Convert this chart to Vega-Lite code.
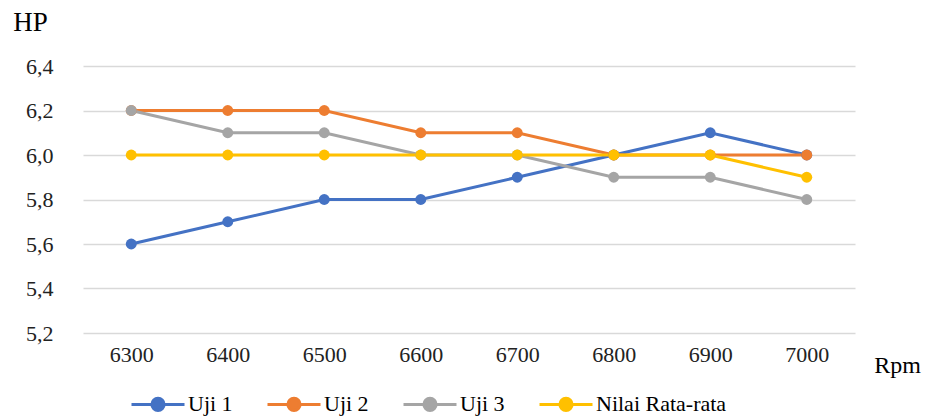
{
  "$schema": "https://vega.github.io/schema/vega-lite/v6.json",
  "width": 772,
  "height": 267,
  "autosize": {"type": "none"},
  "padding": {"left": 83, "top": 66, "right": 70, "bottom": 83},
  "background": "white",
  "config": {
    "font": "Liberation Serif",
    "view": {"stroke": null}
  },
  "data": {
    "values": [
      {"rpm": "6300", "series": "Uji 1", "hp": 5.6},
      {"rpm": "6400", "series": "Uji 1", "hp": 5.7},
      {"rpm": "6500", "series": "Uji 1", "hp": 5.8},
      {"rpm": "6600", "series": "Uji 1", "hp": 5.8},
      {"rpm": "6700", "series": "Uji 1", "hp": 5.9},
      {"rpm": "6800", "series": "Uji 1", "hp": 6.0},
      {"rpm": "6900", "series": "Uji 1", "hp": 6.1},
      {"rpm": "7000", "series": "Uji 1", "hp": 6.0},
      {"rpm": "6300", "series": "Uji 2", "hp": 6.2},
      {"rpm": "6400", "series": "Uji 2", "hp": 6.2},
      {"rpm": "6500", "series": "Uji 2", "hp": 6.2},
      {"rpm": "6600", "series": "Uji 2", "hp": 6.1},
      {"rpm": "6700", "series": "Uji 2", "hp": 6.1},
      {"rpm": "6800", "series": "Uji 2", "hp": 6.0},
      {"rpm": "6900", "series": "Uji 2", "hp": 6.0},
      {"rpm": "7000", "series": "Uji 2", "hp": 6.0},
      {"rpm": "6300", "series": "Uji 3", "hp": 6.2},
      {"rpm": "6400", "series": "Uji 3", "hp": 6.1},
      {"rpm": "6500", "series": "Uji 3", "hp": 6.1},
      {"rpm": "6600", "series": "Uji 3", "hp": 6.0},
      {"rpm": "6700", "series": "Uji 3", "hp": 6.0},
      {"rpm": "6800", "series": "Uji 3", "hp": 5.9},
      {"rpm": "6900", "series": "Uji 3", "hp": 5.9},
      {"rpm": "7000", "series": "Uji 3", "hp": 5.8},
      {"rpm": "6300", "series": "Nilai Rata-rata", "hp": 6.0},
      {"rpm": "6400", "series": "Nilai Rata-rata", "hp": 6.0},
      {"rpm": "6500", "series": "Nilai Rata-rata", "hp": 6.0},
      {"rpm": "6600", "series": "Nilai Rata-rata", "hp": 6.0},
      {"rpm": "6700", "series": "Nilai Rata-rata", "hp": 6.0},
      {"rpm": "6800", "series": "Nilai Rata-rata", "hp": 6.0},
      {"rpm": "6900", "series": "Nilai Rata-rata", "hp": 6.0},
      {"rpm": "7000", "series": "Nilai Rata-rata", "hp": 5.9}
    ]
  },
  "mark": {
    "type": "line",
    "strokeWidth": 3,
    "point": {"filled": true, "size": 120, "opacity": 1}
  },
  "encoding": {
    "x": {
      "field": "rpm",
      "type": "ordinal",
      "scale": {"type": "point", "padding": 0.5},
      "axis": {
        "title": "Rpm",
        "titleFont": "Liberation Serif",
        "titleFontSize": 24,
        "titleFontWeight": "normal",
        "titleColor": "#000000",
        "titleX": 814,
        "titleY": 32,
        "titleAlign": "center",
        "titleBaseline": "middle",
        "labelAngle": 0,
        "labelFont": "Liberation Serif",
        "labelFontSize": 22,
        "labelColor": "#222222",
        "labelPadding": 11,
        "ticks": false,
        "domain": false,
        "grid": false
      }
    },
    "y": {
      "field": "hp",
      "type": "quantitative",
      "scale": {"domain": [5.2, 6.4], "nice": false, "zero": false},
      "axis": {
        "title": "HP",
        "titleFont": "Liberation Serif",
        "titleFontSize": 27,
        "titleFontWeight": "normal",
        "titleColor": "#000000",
        "titleAngle": 0,
        "titleX": -53,
        "titleY": -44,
        "titleAlign": "center",
        "titleBaseline": "middle",
        "values": [5.2, 5.4, 5.6, 5.8, 6.0, 6.2, 6.4],
        "labelExpr": "replace(format(datum.value, '.1f'), '.', ',')",
        "labelFont": "Liberation Serif",
        "labelFontSize": 22,
        "labelColor": "#222222",
        "labelPadding": 30,
        "ticks": false,
        "domain": false,
        "grid": true,
        "gridColor": "#d9d9d9",
        "gridWidth": 1.5
      }
    },
    "color": {
      "field": "series",
      "type": "nominal",
      "sort": ["Uji 1", "Uji 2", "Uji 3", "Nilai Rata-rata"],
      "scale": {
        "domain": ["Uji 1", "Uji 2", "Uji 3", "Nilai Rata-rata"],
        "range": ["#4472c4", "#ed7d31", "#a5a5a5", "#ffc000"]
      },
      "legend": {
        "title": null,
        "orient": "none",
        "direction": "horizontal",
        "legendX": 47,
        "legendY": 310,
        "labelFont": "Liberation Serif",
        "labelFontSize": 22,
        "labelColor": "#000000",
        "labelOffset": 2,
        "symbolType": "M-1,0L1,0M0.23,0A0.23,0.23,0,1,1,-0.23,0A0.23,0.23,0,1,1,0.23,0Z",
        "symbolSize": 2809,
        "symbolStrokeWidth": 3,
        "columnPadding": 28,
        "encode": {
          "symbols": {
            "update": {
              "fill": {"scale": "color", "field": "value"},
              "stroke": {"scale": "color", "field": "value"},
              "strokeWidth": {"value": 3},
              "strokeOpacity": {"value": 1},
              "fillOpacity": {"value": 1},
              "opacity": {"value": 1}
            }
          }
        }
      }
    }
  }
}
